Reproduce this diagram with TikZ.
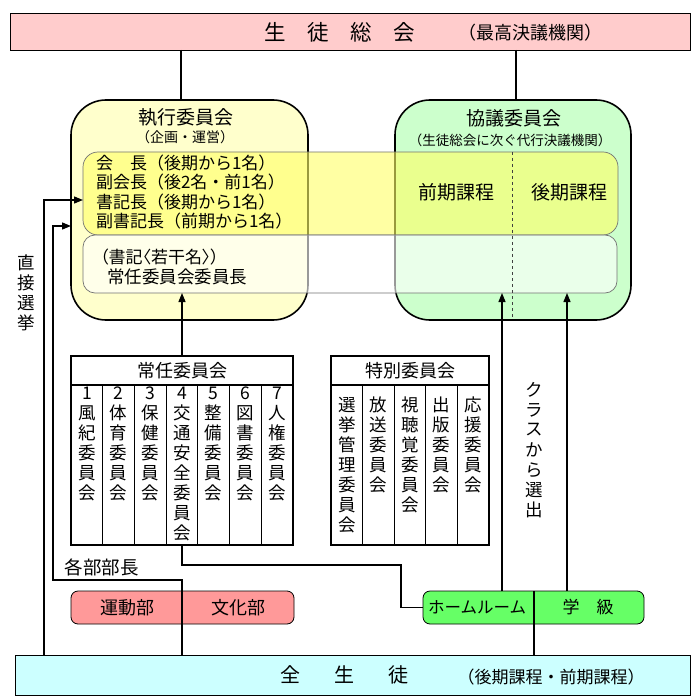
\documentclass[tikz,border=0pt]{standalone}
\usepackage{fontspec}
\setmainfont{Noto Sans CJK JP}
\newfontfamily\pfont{Noto Sans CJK JP}[RawFeature=+palt]
\usetikzlibrary{arrows.meta}
\definecolor{cTop}{RGB}{255,204,204}
\definecolor{cExec}{RGB}{255,255,204}
\definecolor{cCoun}{RGB}{204,255,204}
\definecolor{cBand}{RGB}{255,255,102}
\definecolor{cClub}{RGB}{255,153,153}
\definecolor{cHR}{RGB}{102,255,102}
\definecolor{cAll}{RGB}{204,255,255}
\newcommand\myfs[1]{\fontsize{#1}{#1}\selectfont}
\newcommand\vcol[4]{\foreach \ch [count=\k from 0] in {#4}{\node[vch] (#1-\k) at (#2,{#3+20*\k}) {\ch};}}
\begin{document}
\begin{tikzpicture}[x=1pt,y=-1pt,
  bx/.style={draw=black, line width=0.8pt, inner sep=0pt, outer sep=0pt},
  txt/.style={inner sep=0pt, outer sep=0pt},
  con/.style={line width=1.3pt},
  arr/.style={line width=1.3pt, -{Triangle[length=9pt,width=7pt]}},
  vch/.style={inner sep=0pt, outer sep=0pt, font=\myfs{17.5}},
  col/.style={bx, line width=1.1pt, fill=white, minimum height=160pt}]
\useasboundingbox (0,0) rectangle (700,700);

% top box
\node[bx, fill=cTop, minimum width=680pt, minimum height=37pt] (top) at (350,31.5) {};
\node[txt, font=\myfs{21.5}] (topt) at (340,32) {生　徒　総　会};
\node[txt, font=\myfs{18}] (topn) at (530,33) {（最高決議機関）};

% executive and council boxes
\node[bx, line width=1.6pt, fill=cExec, rounded corners=35pt, minimum width=237pt, minimum height=220pt] (exec) at (189.5,210) {};
\node[bx, line width=1.6pt, fill=cCoun, rounded corners=35pt, minimum width=236pt, minimum height=220pt] (coun) at (513,210) {};
\node[txt, font=\myfs{19}] (exect) at (186,117) {執行委員会};
\node[txt, font=\myfs{14}] (execs) at (185,137) {（企画・運営）};
\node[txt, font=\myfs{19}] (count) at (514,118) {協議委員会};
\node[txt, font=\myfs{13.5}] (couns) at (510,140) {（生徒総会に次ぐ代行決議機関）};

% bands
\node[bx, draw=black!55, line width=0.7pt, fill=cBand, fill opacity=0.6, rounded corners=15pt, minimum width=535pt, minimum height=83pt] (band1) at (350.5,193.5) {};
\node[bx, draw=black!55, line width=0.7pt, fill=white, fill opacity=0.6, rounded corners=12pt, minimum width=534pt, minimum height=58pt] (band2) at (350,264) {};
\coordinate (dsh) at (512,0);
\draw[black!75, line width=0.8pt, dash pattern=on 3pt off 3pt] (band1.north -| dsh) -- ([yshift=3pt]coun.south -| dsh);

\node[txt, anchor=west, font=\myfs{17}] (o1) at (96,163) {会　長（後期から1名）};
\node[txt, anchor=west, font=\myfs{17}] (o2) at (96,182.5) {副会長（後2名・前1名）};
\node[txt, anchor=west, font=\myfs{17}] (o3) at (96,202) {書記長（後期から1名）};
\node[txt, anchor=west, font=\myfs{17}] (o4) at (96,221.5) {副書記長（前期から1名）};
\node[txt, anchor=west, font=\pfont\myfs{17}] (sk) at (100,257) {（書記〈若干名〉）};
\node[txt, anchor=west, font=\myfs{17.5}] (ic) at (107,277) {常任委員会委員長};
\node[txt, font=\myfs{19}] (zenki) at (456,192) {前期課程};
\node[txt, font=\myfs{19}] (kouki) at (569,192) {後期課程};

% standing committees
\node[bx, line width=1.1pt, fill=white, minimum width=222pt, minimum height=29pt, font=\myfs{18}] (stc) at (182,370.5) {常任委員会};
\foreach \i in {1,...,7}
  \node[col, minimum width=31.714pt] (c\i) at ({71+31.714*(\i-0.5)},465) {};
\vcol{v1}{86.86}{393}{1,風,紀,委,員,会}
\vcol{v2}{118.57}{393}{2,体,育,委,員,会}
\vcol{v3}{150.29}{393}{3,保,健,委,員,会}
\vcol{v4}{182}{393}{4,交,通,安,全,委,員,会}
\vcol{v5}{213.71}{393}{5,整,備,委,員,会}
\vcol{v6}{245.43}{393}{6,図,書,委,員,会}
\vcol{v7}{277.14}{393}{7,人,権,委,員,会}

% special committees
\node[bx, line width=1.1pt, fill=white, minimum width=158pt, minimum height=29pt, font=\myfs{18}] (spc) at (410,370.5) {特別委員会};
\foreach \i in {1,...,5}
  \node[col, minimum width=31.6pt] (s\i) at ({331+31.6*(\i-0.5)},465) {};
\vcol{w1}{346.8}{405}{選,挙,管,理,委,員,会}
\vcol{w2}{378.4}{405}{放,送,委,員,会}
\vcol{w3}{410}{405}{視,聴,覚,委,員,会}
\vcol{w4}{441.6}{405}{出,版,委,員,会}
\vcol{w5}{473.2}{405}{応,援,委,員,会}

% side labels
\vcol{dv}{26}{262.5}{直,接,選,挙}
\vcol{kv}{534}{390}{ク,ラ,ス,か,ら,選,出}
\node[txt, font=\myfs{18.5}] (bucho) at (101.5,567) {各部部長};

% clubs and homeroom
\node[bx, fill=cClub, rounded corners=7pt, minimum width=223pt, minimum height=33pt] (clubs) at (182.5,607.5) {};
\node[txt, font=\myfs{18}] (und) at (127,607.5) {運動部};
\node[txt, font=\myfs{18}] (bun) at (238,607.5) {文化部};
\node[bx, fill=cHR, rounded corners=7pt, minimum width=221pt, minimum height=33pt] (hrb) at (533.5,607.5) {};
\node[txt, font=\myfs{16.5}] (hr) at (477,607.5) {ホームルーム};
\node[txt, font=\myfs{17}] (gk) at (588,607.5) {学　級};

% all students
\node[bx, fill=cAll, minimum width=675pt, minimum height=40pt] (all) at (352.5,675) {};
\node[txt, font=\myfs{20}] (allt) at (344,675) {全\hspace{34pt}生\hspace{34pt}徒};
\node[txt, font=\myfs{17}] (alln) at (551,677) {（後期課程・前期課程）};

% connectors
\coordinate (t1) at (181,0);
\coordinate (t2) at (516,0);
\draw[con] (top.south -| t1) -- (exec.north -| t1);
\draw[con] (top.south -| t2) -- (coun.north -| t2);
\draw[arr] (stc.north) -- (stc.north |- band2.south);
\coordinate (l1) at (44,200);
\draw[arr] (all.north -| l1) -- (l1) -- (l1 -| band1.west);
\coordinate (j) at (182,580);
\coordinate (l2) at (53,226);
\draw[arr] (all.north -| j) -- (j) -| (l2) -- (l2 -| exec.west);
\coordinate (k) at (401,565);
\draw[con] (c4.south) |- (k) |- (hrb.west);
\coordinate (a1) at (502,0);
\coordinate (a2) at (567,0);
\draw[arr] (hrb.north -| a1) -- (band2.south -| a1);
\draw[arr] (hrb.north -| a2) -- (band2.south -| a2);
\coordinate (hd) at (534,0);
\draw[con] (hrb.north -| hd) -- (all.north -| hd);
\end{tikzpicture}
\end{document}
